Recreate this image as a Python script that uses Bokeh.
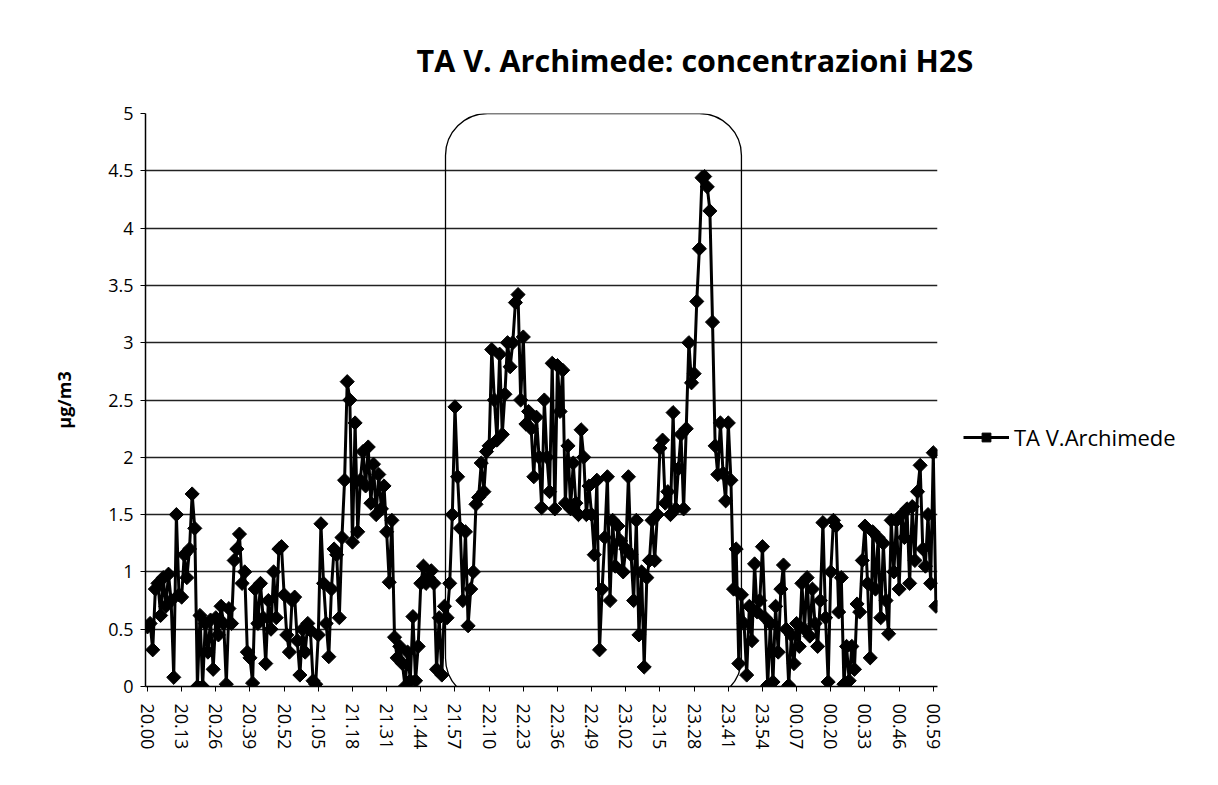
import numpy as np
from bokeh.plotting import figure
from bokeh.models import (Range1d, FixedTicker, Legend, LegendItem,
                          BoxAnnotation, ColumnDataSource)
from bokeh.embed import file_html
from bokeh.resources import INLINE

# ---- data (one value per minute, 20.00 -> 01.00) ----
h2s = [
    0.52, 0.55, 0.32, 0.85, 0.9, 0.62, 0.95, 0.7, 0.98, 0.75, 0.08, 1.5, 0.8,
    0.78, 1.15, 0.95, 1.2, 1.68, 1.38, 0.0, 0.62, 0.0, 0.55, 0.3, 0.58, 0.15,
    0.6, 0.45, 0.7, 0.55, 0.02, 0.68, 0.55, 1.1, 1.2, 1.33, 0.9, 1.0, 0.3,
    0.25, 0.03, 0.85, 0.55, 0.9, 0.6, 0.2, 0.75, 0.5, 1.0, 0.6, 1.2, 1.22,
    0.8, 0.45, 0.3, 0.75, 0.78, 0.4, 0.1, 0.5, 0.3, 0.55, 0.49, 0.05, 0.02,
    0.45, 1.42, 0.9, 0.55, 0.26, 0.85, 1.2, 1.15, 0.6, 1.3, 1.8, 2.66, 2.5,
    1.26, 2.3, 1.35, 1.8, 2.05, 1.75, 2.09, 1.6, 1.94, 1.5, 1.85, 1.55, 1.75,
    1.35, 0.91, 1.45, 0.43, 0.25, 0.35, 0.2, 0.0, 0.3, 0.05, 0.61, 0.05, 0.35,
    0.9, 1.05, 0.9, 0.95, 1.01, 0.9, 0.15, 0.6, 0.1, 0.7, 0.6, 0.9, 1.5,
    2.44, 1.83, 1.38, 0.75, 1.35, 0.53, 0.85, 1.0, 1.59, 1.65, 1.95, 1.7, 2.05,
    2.1, 2.94, 2.5, 2.15, 2.9, 2.2, 2.55, 3.0, 2.79, 3.0, 3.35, 3.42, 2.5,
    3.05, 2.29, 2.4, 2.25, 1.83, 2.35, 2.0, 1.56, 2.5, 2.0, 1.7, 2.82, 1.55,
    2.8, 2.4, 2.76, 1.6, 2.1, 1.55, 1.95, 1.6, 1.5, 2.24, 2.0, 1.5, 1.75,
    1.5, 1.15, 1.8, 0.32, 0.85, 1.3, 1.83, 0.75, 1.45, 1.05, 1.4, 1.27, 1.0,
    1.2, 1.83, 1.15, 0.75, 1.45, 0.45, 1.0, 0.17, 0.95, 1.1, 1.45, 1.1, 1.5,
    2.08, 2.15, 1.6, 1.7, 1.5, 2.39, 1.55, 1.9, 2.2, 1.55, 2.25, 3.0, 2.65,
    2.73, 3.36, 3.82, 4.44, 4.45, 4.36, 4.15, 3.18, 2.1, 1.85, 2.3, 1.86, 1.62,
    2.3, 1.8, 0.85, 1.2, 0.2, 0.8, 0.55, 0.1, 0.7, 0.4, 1.07, 0.65, 0.75,
    1.22, 0.6, 0.01, 0.55, 0.04, 0.7, 0.3, 0.85, 1.06, 0.5, 0.01, 0.45, 0.2,
    0.55, 0.35, 0.9, 0.5, 0.95, 0.44, 0.85, 0.55, 0.35, 0.75, 1.43, 0.6, 0.04,
    1.0, 1.45, 1.4, 0.65, 0.95, 0.02, 0.35, 0.05, 0.35, 0.15, 0.72, 0.65, 1.1,
    1.4, 0.9, 0.25, 1.35, 0.85, 1.3, 0.6, 1.25, 0.75, 0.46, 1.45, 1.0, 1.45,
    0.85, 1.5, 1.3, 1.55, 0.9, 1.57, 1.1, 1.7, 1.93, 1.2, 1.05, 1.5, 0.9,
    2.04, 0.7,
]
minute_index = list(range(len(h2s)))

x_tick_labels = ["20.00", "20.13", "20.26", "20.39", "20.52", "21.05", "21.18",
                 "21.31", "21.44", "21.57", "22.10", "22.23", "22.36", "22.49",
                 "23.02", "23.15", "23.28", "23.41", "23.54", "00.07", "00.20",
                 "00.33", "00.46", "00.59"]
x_tick_step = 13
y_ticks = [0, 0.5, 1, 1.5, 2, 2.5, 3, 3.5, 4, 4.5, 5]
y_tick_labels = ["0", "0.5", "1", "1.5", "2", "2.5", "3", "3.5", "4", "4.5", "5"]

series_name = "TA V.Archimede"
title_text = "TA V. Archimede: concentrazioni H2S"
y_label = "µg/m3"

# highlighted window (minute indices / value bounds)
box_left, box_right, box_top, box_bottom = 113.4, 226.0, 5.0, -0.12

FONT = "Open Sans"

p = figure(frame_width=792, frame_height=573,
           output_backend="svg", toolbar_location=None,
           x_range=Range1d(-0.75, 300.6), y_range=Range1d(0, 5),
           min_border_left=145, min_border_right=0,
           min_border_top=113, min_border_bottom=83,
           title=title_text)
p.outline_line_color = None
p.background_fill_color = "white"
p.border_fill_color = "white"

p.title.align = "left"
p.title.offset = 271
p.title.text_font = FONT
p.title.text_font_style = "bold"
p.title.text_font_size = "30.5px"
p.title.text_color = "black"
p.title.standoff = 65

src = ColumnDataSource(dict(x=minute_index, y=h2s))
ln = p.line("x", "y", source=src, line_color="black", line_width=3)
sc = p.scatter("x", "y", source=src, marker="square", angle=np.pi / 4, size=10,
               fill_color="black", line_color="black")

# axes
x_ticks = [i * x_tick_step for i in range(len(x_tick_labels))]
p.xaxis.ticker = FixedTicker(ticks=x_ticks)
p.xaxis.major_label_overrides = {t: l for t, l in zip(x_ticks, x_tick_labels)}
p.xaxis.major_label_orientation = "vertical"
p.xaxis.minor_tick_line_color = None
p.xaxis.major_tick_out = 5
p.xaxis.major_tick_in = 0
p.xaxis.major_label_standoff = 12
p.xaxis.axis_line_color = "black"
p.xaxis.axis_line_width = 1.5
p.xaxis.major_label_text_font = FONT
p.xaxis.major_label_text_font_size = "18px"
p.xaxis.major_label_text_color = "black"

p.yaxis.ticker = FixedTicker(ticks=y_ticks)
p.yaxis.major_label_overrides = {t: l for t, l in zip(y_ticks, y_tick_labels)}
p.yaxis.minor_tick_line_color = None
p.yaxis.major_tick_out = 5
p.yaxis.major_tick_in = 0
p.yaxis.major_label_standoff = 7
p.yaxis.axis_line_color = "black"
p.yaxis.axis_line_width = 1.5
p.yaxis.major_label_text_font = FONT
p.yaxis.major_label_text_font_size = "18px"
p.yaxis.major_label_text_color = "black"
p.yaxis.axis_label = y_label
p.yaxis.axis_label_text_font = FONT
p.yaxis.axis_label_text_font_style = "bold"
p.yaxis.axis_label_text_font_size = "18px"
p.yaxis.axis_label_text_color = "black"
p.yaxis.axis_label_standoff = 29

p.xgrid.grid_line_color = None
p.ygrid.grid_line_color = "#222222"
p.ygrid.grid_line_width = 1.3

# rounded highlight box
p.add_layout(BoxAnnotation(left=box_left, right=box_right, top=box_top,
                           bottom=box_bottom, border_radius=42,
                           fill_alpha=0, line_color="black", line_alpha=1.0,
                           line_width=1.3))

# legend (outside, right of the plot area)
legend = Legend(items=[LegendItem(label=series_name, renderers=[ln, sc])],
                location="center_left", orientation="vertical",
                title=" ", title_text_font_size="10px", title_standoff=63,
                glyph_width=46, glyph_height=22, label_standoff=5,
                padding=26, margin=0, spacing=0,
                border_line_alpha=0, background_fill_alpha=0,
                label_text_font=FONT, label_text_font_size="22px",
                label_text_color="black", label_text_baseline="middle")
p.add_layout(legend, "right")

open("out.html", "w").write(file_html(p, INLINE))
